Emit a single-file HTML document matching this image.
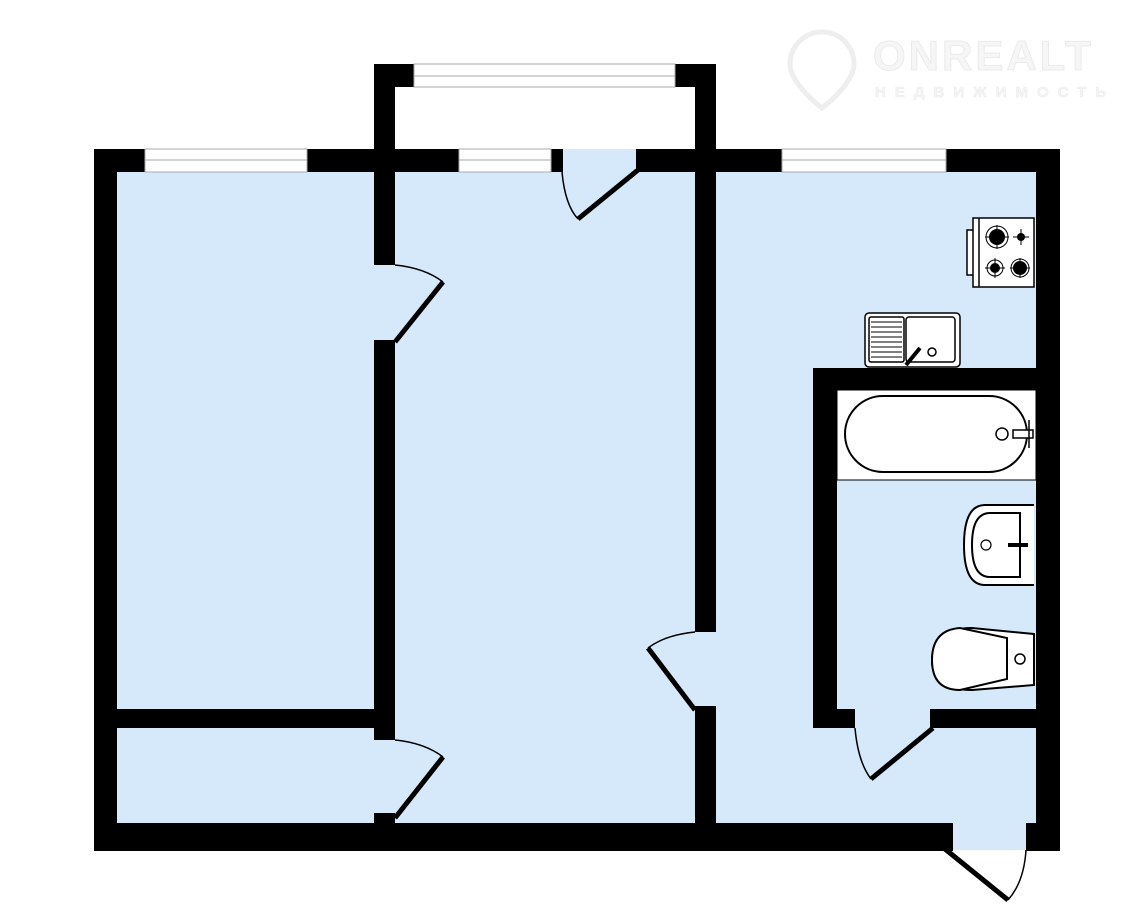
<!DOCTYPE html>
<html><head><meta charset="utf-8"><style>
html,body{margin:0;padding:0;background:#fff;width:1146px;height:910px;overflow:hidden}
svg{display:block}
</style></head><body>
<svg width="1146" height="910" viewBox="0 0 1146 910" xmlns="http://www.w3.org/2000/svg">
<!-- logo watermark -->
<g fill="#f2f2f2" stroke="#ececec" stroke-width="1">
<path d="M822 32 a32 32 0 0 1 32 32 c0 20 -32 44 -32 44 c0 0 -32 -24 -32 -44 a32 32 0 0 1 32 -32z" fill="none" stroke="#eeeeee" stroke-width="5"/>
</g>
<text x="873" y="70" font-family="Liberation Sans, sans-serif" font-weight="bold" font-size="42" fill="#f6f6f6" stroke="#ebebeb" stroke-width="1" letter-spacing="3">ONREALT</text>
<text x="875" y="97" font-family="Liberation Sans, DejaVu Sans, sans-serif" font-weight="bold" font-size="15" fill="#f4f4f4" stroke="#ececec" stroke-width="0.6" letter-spacing="9">НЕДВИЖИМОСТЬ</text>

<!-- floor fill -->
<g fill="#d5e9fb">
<rect x="117" y="172" width="919" height="651"/>
<rect x="953" y="823" width="73" height="27"/>
<rect x="563" y="149" width="73" height="23"/>
</g>
<!-- balcony interior white -->
<rect x="395" y="87" width="300" height="62" fill="#fff"/>

<g fill="#000">
<!-- top wall -->
<rect x="94" y="149" width="51" height="23"/>
<rect x="307" y="149" width="152" height="23"/>
<rect x="551" y="149" width="12" height="23"/>
<rect x="636" y="149" width="146" height="23"/>
<rect x="946" y="149" width="114" height="23"/>
<!-- left wall -->
<rect x="94" y="149" width="23" height="702"/>
<!-- right wall -->
<rect x="1036" y="149" width="24" height="702"/>
<!-- bottom wall -->
<rect x="94" y="823" width="859" height="28"/>
<rect x="1026" y="823" width="34" height="28"/>
<!-- balcony -->
<rect x="374" y="64" width="21" height="108"/>
<rect x="695" y="64" width="21" height="108"/>
<rect x="374" y="64" width="40" height="23"/>
<rect x="675" y="64" width="41" height="23"/>
<!-- left partition -->
<rect x="374" y="149" width="21" height="116"/>
<rect x="374" y="340" width="21" height="400"/>
<rect x="374" y="813" width="21" height="10"/>
<rect x="117" y="709" width="257" height="19"/>
<!-- middle partition -->
<rect x="695" y="149" width="21" height="483"/>
<rect x="695" y="706" width="21" height="117"/>
<!-- bathroom block -->
<rect x="813" y="368" width="223" height="22"/>
<rect x="813" y="368" width="24" height="360"/>
<rect x="813" y="709" width="42" height="19"/>
<rect x="930" y="709" width="106" height="19"/>
</g>

<!-- windows -->
<g fill="#fff" stroke="#aaa" stroke-width="1">
<rect x="145" y="149" width="162" height="23"/>
<rect x="459" y="149" width="92" height="23"/>
<rect x="782" y="149" width="164" height="23"/>
<rect x="414" y="64" width="261" height="23"/>
</g>
<g stroke="#aaa" stroke-width="1">
<line x1="145" y1="160" x2="307" y2="160"/>
<line x1="459" y1="160" x2="551" y2="160"/>
<line x1="782" y1="160" x2="946" y2="160"/>
<line x1="414" y1="76" x2="675" y2="76"/>
</g>

<!-- doors -->
<g stroke="#000" fill="none">
<line x1="638" y1="170" x2="578" y2="219" stroke-width="5"/>
<path d="M562 172 Q565 205 578 219" stroke-width="1.5"/>
<line x1="395" y1="342" x2="443" y2="282" stroke-width="5"/>
<path d="M395 265 Q425 268 443 282" stroke-width="1.5"/>
<line x1="395" y1="818" x2="443" y2="757" stroke-width="5"/>
<path d="M395 740 Q425 743 443 757" stroke-width="1.5"/>
<line x1="695" y1="710" x2="648" y2="648" stroke-width="5"/>
<path d="M695 632 Q665 635 648 648" stroke-width="1.5"/>
<line x1="933" y1="728" x2="871" y2="779" stroke-width="5"/>
<path d="M855 728 Q858 762 871 779" stroke-width="1.5"/>
<line x1="945" y1="849" x2="1008" y2="900" stroke-width="5"/>
<path d="M1026 850 Q1024 882 1008 900" stroke-width="1.5"/>
</g>

<!-- stove -->
<g stroke="#000" stroke-width="1.5" fill="#fff">
<rect x="967" y="230" width="7" height="45"/>
<rect x="973" y="218" width="61" height="69"/>
<line x1="979" y1="218" x2="979" y2="287"/>
</g>
<g fill="#000">
<circle cx="997" cy="237" r="8"/><circle cx="1021" cy="237" r="4"/>
<circle cx="995" cy="268" r="5"/><circle cx="1020" cy="268" r="7"/>
</g>
<g stroke="#000" stroke-width="1" fill="none">
<path d="M985 237h24M997 225v24M1013 237h16M1021 229v16M985 268h20M995 258v20M1010 268h20M1020 258v20"/>
<circle cx="997" cy="237" r="11"/><circle cx="995" cy="268" r="8"/><circle cx="1020" cy="268" r="9"/>
</g>
<!-- sink -->
<g stroke="#000" stroke-width="1.5" fill="#fff">
<rect x="865" y="313" width="95" height="54" rx="4"/>
<rect x="869" y="317" width="35" height="45" rx="2"/>
<rect x="906" y="317" width="49" height="45" rx="3"/>
<circle cx="932" cy="352" r="4"/>
<line x1="906" y1="365" x2="920" y2="348" stroke-width="4"/>
</g>
<g stroke="#000" stroke-width="1"><path d="M871 322h31M871 327h31M871 332h31M871 337h31M871 342h31M871 347h31M871 352h31M871 357h31"/></g>
<!-- bath -->
<rect x="837" y="390" width="199" height="90" fill="#fff" stroke="#000" stroke-width="1"/>
<rect x="845" y="396" width="182" height="76" rx="38" fill="#fff" stroke="#000" stroke-width="2"/>
<circle cx="1002" cy="434" r="6" fill="none" stroke="#000" stroke-width="1.5"/>
<rect x="1013" y="430" width="20" height="8" fill="#fff" stroke="#000" stroke-width="1.5"/>
<line x1="1029" y1="420" x2="1029" y2="448" stroke="#000" stroke-width="1.5"/>
<!-- washbasin -->
<path d="M1034 505 H985 Q964 505 964 545 Q964 585 985 585 H1034" fill="#fff" stroke="#000" stroke-width="2"/>
<path d="M1020 513 H990 Q972 513 972 545 Q972 577 990 577 H1020Z" fill="none" stroke="#000" stroke-width="2"/>
<circle cx="986" cy="545" r="5" fill="none" stroke="#000" stroke-width="1.2"/>
<line x1="1008" y1="545" x2="1028" y2="545" stroke="#000" stroke-width="4"/>
<!-- toilet -->
<path d="M1034 634 L972 628 Q932 628 932 660 Q932 690 972 690 L1034 685Z" fill="#fff" stroke="#000" stroke-width="2"/>
<path d="M960 628 Q932 630 932 660 Q932 690 960 690 L1007 679 L1007 638Z" fill="#fff" stroke="#000" stroke-width="2"/>
<circle cx="1020" cy="659" r="5" fill="none" stroke="#000" stroke-width="1.5"/>
</svg>
</body></html>
